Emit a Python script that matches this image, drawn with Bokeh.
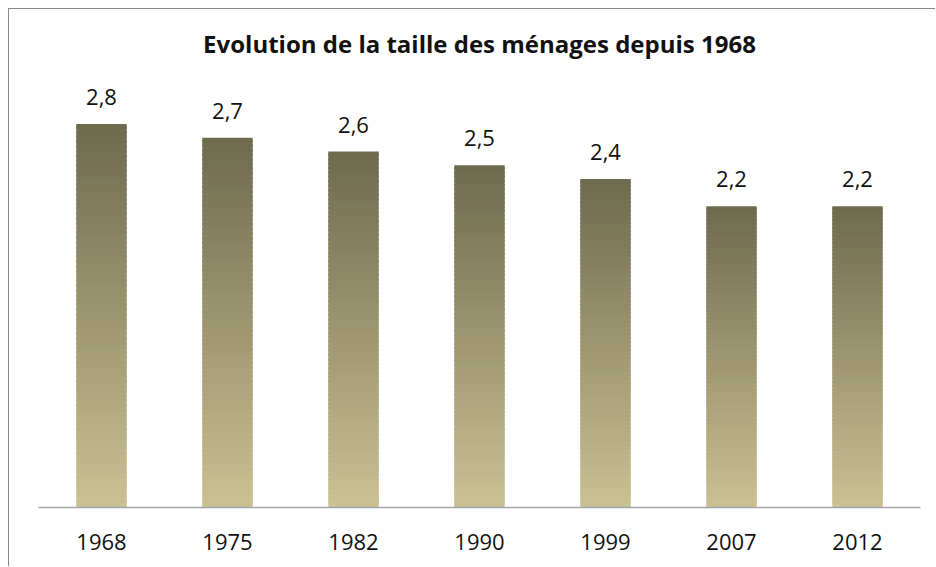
from bokeh.plotting import figure
from bokeh.models import ColumnDataSource, Range1d
from bokeh.core.properties import value
from bokeh.embed import file_html
from bokeh.resources import INLINE

years = ["1968", "1975", "1982", "1990", "1999", "2007", "2012"]
sizes = [2.8, 2.7, 2.6, 2.5, 2.4, 2.2, 2.2]
title_text = "Evolution de la taille des ménages depuis 1968"

top_rgb = (110, 106, 79)
bottom_rgb = (202, 193, 147)
N = 80

xs, bots, tops, cols = [], [], [], []
for yr, v in zip(years, sizes):
    for i in range(N):
        t0 = i / N
        t1 = min((i + 1.6) / N, 1.0)
        tm = (i + 0.5) / N
        c = tuple(int(round(b + (t - b) * tm)) for b, t in zip(bottom_rgb, top_rgb))
        xs.append(yr)
        bots.append(v * t0)
        tops.append(v * t1)
        cols.append("#%02x%02x%02x" % c)

seg = ColumnDataSource(dict(x=xs, bottom=bots, top=tops, color=cols))
lab = ColumnDataSource(dict(x=years, y=sizes,
                            text=[("%.1f" % v).replace(".", ",") for v in sizes]))

p = figure(x_range=years, y_range=Range1d(0, 3.25), width=927, height=558,
           output_backend="svg", toolbar_location=None, title=title_text,
           min_border_left=29, min_border_right=16, min_border_top=53,
           min_border_bottom=60)
p.styles = {"margin-left": "8px", "margin-top": "8px",
            "border-top": "1px solid #878787", "border-left": "1px solid #878787"}
p.outline_line_color = None
p.background_fill_color = "white"
p.border_fill_color = "white"
p.xgrid.visible = False
p.ygrid.visible = False
p.yaxis.visible = False

p.title.align = "center"
p.title.text_font = "Open Sans"
p.title.text_font_size = "24px"
p.title.text_font_style = "bold"
p.title.text_color = "#111111"
p.title.standoff = 6

p.vbar(x="x", bottom="bottom", top="top", width=0.4, source=seg,
       fill_color="color", line_color=None)

p.text(x="x", y="y", text="text", source=lab, text_align="center",
       text_baseline="bottom", y_offset=-19, text_font=value("Open Sans"),
       text_font_size="22px", text_color="#111111")

ax = p.xaxis[0]
ax.axis_line_color = "#a6a6a6"
ax.axis_line_width = 1.5
ax.major_tick_line_color = None
ax.minor_tick_line_color = None
ax.major_label_standoff = 20
ax.major_label_text_font = "Open Sans"
ax.major_label_text_font_size = "22px"
ax.major_label_text_color = "#111111"

open("out.html", "w").write(file_html(p, INLINE))
